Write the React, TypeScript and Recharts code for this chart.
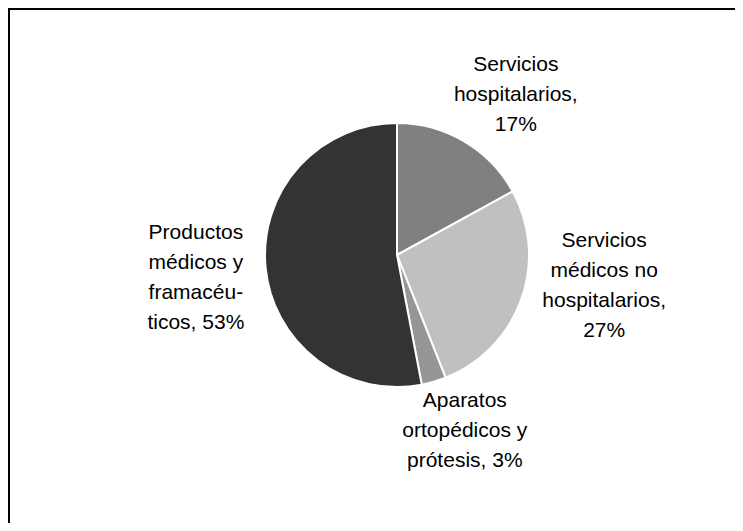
import { PieChart, Pie, Cell } from 'recharts';

const categories = [
  ['Servicios', 'hospitalarios,', '17%'],
  ['Servicios', 'médicos no', 'hospitalarios,', '27%'],
  ['Aparatos', 'ortopédicos y', 'prótesis, 3%'],
  ['Productos', 'médicos y', 'framacéu-', 'ticos, 53%'],
];
const names = [
  'Servicios hospitalarios',
  'Servicios médicos no hospitalarios',
  'Aparatos ortopédicos y prótesis',
  'Productos médicos y framacéuticos',
];
const shares = [17, 27, 3, 53];

const colors = ['#808080', '#c0c0c0', '#969696', '#333333'];
// small per-label nudges so the text blocks sit like the original layout
const labelNudge = [
  [17, 11],
  [19, -38],
  [12, -18],
  [-2, 3],
];

const RAD = Math.PI / 180;
const LINE = 30;

const data = names.map((name, i) => ({ name, value: shares[i] }));

const renderLabel = (props: any) => {
  const { cx, cy, midAngle, outerRadius, index } = props;
  const d = outerRadius + 68;
  const x = cx + d * Math.cos(-midAngle * RAD) + labelNudge[index][0];
  const y = cy + d * Math.sin(-midAngle * RAD) + labelNudge[index][1];
  const lines = categories[index];
  const top = y - ((lines.length - 1) * LINE) / 2;
  return (
    <text
      x={x}
      y={top}
      textAnchor="middle"
      fill="#000"
      fontSize={21}
      fontFamily="'Liberation Sans', Arial, sans-serif"
    >
      {lines.map((l, i) => (
        <tspan key={i} x={x} y={top + i * LINE} dominantBaseline="central">
          {l}
        </tspan>
      ))}
    </text>
  );
};

export default function App() {
  return (
    <div
      style={{
        width: 735,
        height: 523,
        marginBottom: -8,
        boxSizing: 'border-box',
        borderTop: '2px solid #000',
        borderLeft: '2px solid #000',
        background: '#fff',
        overflow: 'hidden',
      }}
    >
      <PieChart width={733} height={521}>
        <Pie
          data={data}
          dataKey="value"
          cx={382}
          cy={240}
          outerRadius={132}
          startAngle={90}
          endAngle={-270}
          stroke="#fff"
          strokeWidth={2}
          label={renderLabel}
          labelLine={false}
          isAnimationActive={false}
        >
          {data.map((_, i) => (
            <Cell key={i} fill={colors[i]} />
          ))}
        </Pie>
      </PieChart>
    </div>
  );
}
